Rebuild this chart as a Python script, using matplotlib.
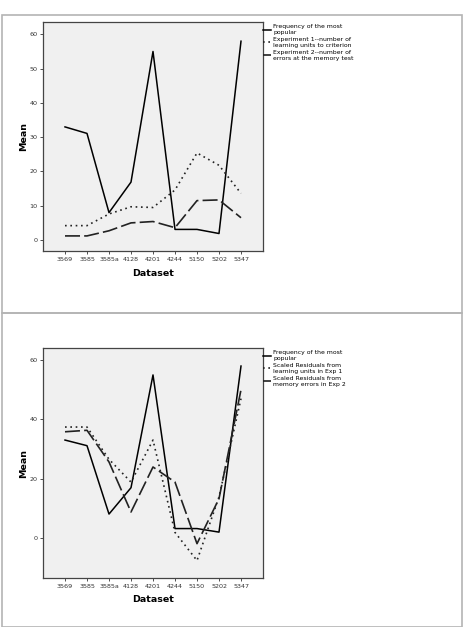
import matplotlib
matplotlib.use("Agg")
import matplotlib.pyplot as plt

datasets = ["3569", "3585", "3585a", "4128", "4201", "4244", "5150", "5202", "5347"]

freq_popular = [33, 31.1, 8, 16.9, 55, 3.1, 3.1, 1.9, 58]

exp1_units = [4.2, 4.2, 7.6, 9.7, 9.5, 14.6, 25.4, 21.8, 13.6]
exp2_errors = [1.2, 1.2, 2.7, 5.0, 5.4, 3.6, 11.5, 11.7, 6.5]

resid_exp1 = [37.4, 37.4, 26.5, 18.8, 33.0, 1.8, -7.7, 13.8, 47.0]
resid_exp2 = [35.8, 36.3, 25.6, 8.7, 23.9, 18.8, -2.0, 13.2, 50.0]

labels_top = ["Frequency of the most\npopular",
              "Experiment 1--number of\nlearning units to criterion",
              "Experiment 2--number of\nerrors at the memory test"]
labels_bot = ["Frequency of the most\npopular",
              "Scaled Residuals from\nlearning units in Exp 1",
              "Scaled Residuals from\nmemory errors in Exp 2"]

W, H = 463, 627
fig = plt.figure(figsize=(W / 100, H / 100), dpi=100)
fig.patch.set_facecolor("white")

# panel frames
for y0, y1 in [(15, 313), (313, 627)]:
    fig.add_artist(plt.Rectangle((1.5 / W, 1 - y1 / H), (461.5 - 1.5) / W, (y1 - y0) / H,
                                 transform=fig.transFigure, fill=False,
                                 edgecolor="#b4b4b4", linewidth=1.2))


def panel(rect, s1, s2, labels, yticks, ylim):
    ax = fig.add_axes(rect)
    ax.set_facecolor("#f0f0f0")
    x = range(len(datasets))
    ax.plot(x, freq_popular, color="black", lw=1.1, ls="-", label=labels[0])
    ax.plot(x, s1, color="#222222", lw=1.2, ls=(0, (1, 2.2)), label=labels[1])
    ax.plot(x, s2, color="#222222", lw=1.2, ls=(0, (9, 2.5)), label=labels[2])
    ax.set_xlim(-1, 9)
    ax.set_ylim(*ylim)
    ax.set_xticks(list(x))
    ax.set_xticklabels(datasets)
    ax.set_yticks(yticks)
    ax.tick_params(labelsize=4.6, length=2, width=0.6, colors="#333333", pad=2)
    for sp in ax.spines.values():
        sp.set_color("#444444")
        sp.set_linewidth(0.9)
    ax.set_xlabel("Dataset", fontsize=6.8, fontweight="bold", labelpad=5)
    ax.set_ylabel("Mean", fontsize=6.8, fontweight="bold", labelpad=1)
    ax.legend(loc="upper left", bbox_to_anchor=(1.0, 0.99), frameon=False,
              fontsize=4.4, handlelength=1.3, handletextpad=0.35,
              borderaxespad=0, borderpad=0, labelspacing=0.35)
    return ax


panel([43 / W, 1 - 251 / H, 220 / W, 229 / H], exp1_units, exp2_errors,
      labels_top, [0, 10, 20, 30, 40, 50, 60], (-3.2, 63.6))
panel([43 / W, 1 - 578 / H, 220 / W, 230 / H], resid_exp1, resid_exp2,
      labels_bot, [0, 20, 40, 60], (-13.6, 64.1))

fig.savefig("out.png", dpi=100)
